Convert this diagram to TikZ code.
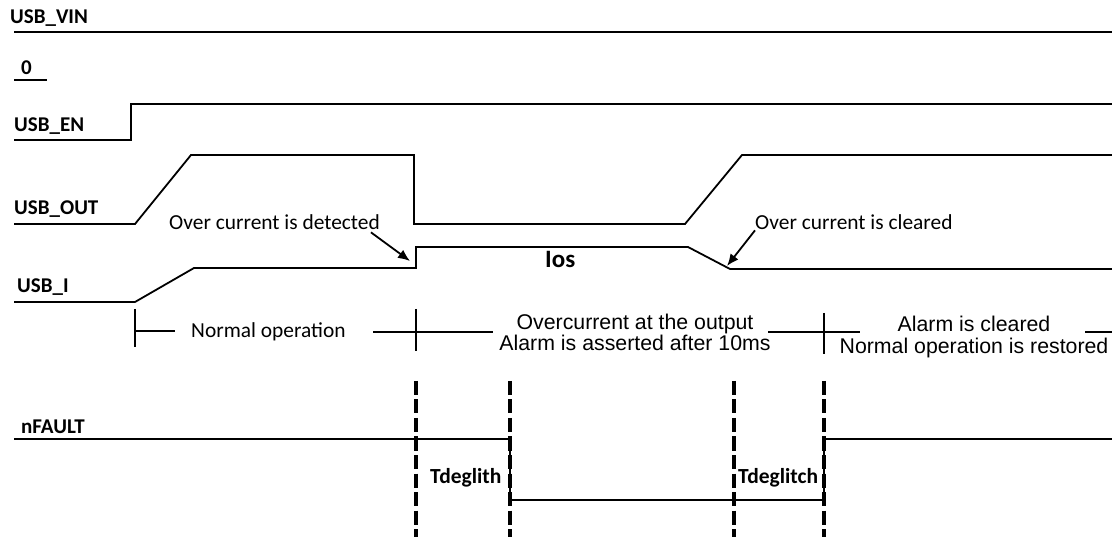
\documentclass[tikz,border=0pt]{standalone}
\usepackage{fontspec}
\setmainfont{Carlito}
\newfontfamily\arialfont{Liberation Sans}
\usetikzlibrary{arrows.meta}

\tikzstyle{wave} = [line width = 1.8pt]
\tikzstyle{signame} = [anchor = base west, inner sep = 0pt, font = \fontsize{21}{24}\selectfont\bfseries]
\tikzstyle{note} = [anchor = base west, inner sep = 0pt, font = \fontsize{21.4}{24}\selectfont]
\tikzstyle{phase} = [align = center, inner sep = 0pt]
\tikzstyle{marker} = [line width = 3.6pt, dash pattern = on 14pt off 4.5pt]
\tikzstyle{pointer} = [line width = 1.8pt, -{Latex[length = 12pt, width = 10pt]}]

\begin{document}
\begin{tikzpicture}[x = 1pt, y = -1pt]
      \useasboundingbox (0, 0) rectangle (1112, 537);

      % Signal names
      \node[signame] (vin)   at (10,  24) {USB\_VIN};
      \node[signame] (zero)  at (21,  75) {0};
      \node[signame] (en)    at (14, 132) {USB\_EN};
      \node[signame] (out)   at (14, 215) {USB\_OUT};
      \node[signame] (cur)   at (17, 293) {USB\_I};
      \node[signame] (fault) at (21, 434) {nFAULT};

      % Waveforms
      \draw[wave] (14, 32) -- (1112, 32);
      \draw[wave] (14, 80) -- (47, 80);
      \draw[wave] (14, 140) -- (131, 140) -- (131, 104) -- (1112, 104);
      \draw[wave] (14, 224) -- (135, 224) -- (191, 155) -- (414, 155) -- (414, 224)
                           -- (685, 224) -- (742, 155) -- (1112, 155);
      \draw[wave] (14, 302) -- (135, 302) -- (194, 268) -- (416, 268) -- (416, 247)
                           -- (688, 247) -- (730, 269) -- (1112, 269);
      \draw[wave] (14, 439) -- (510, 439) -- (510, 500) -- (824, 500) -- (824, 439)
                           -- (1112, 439);

      % Over current events
      \node[note] (det) at (169, 230) {Over current is detected};
      \node[note] (clr) at (755, 230) {Over current is cleared};
      \coordinate (detTip) at (410, 261);
      \coordinate (clrTip) at (727, 266);
      \draw[pointer] ([xshift = -9pt, yshift = -2pt]det.south east) -- (detTip);
      \draw[pointer] (clr.south west) -- (clrTip);
      \node[anchor = base west, inner sep = 0pt, font = \fontsize{25}{30}\selectfont\bfseries]
        (ios) at (545, 268) {Ios};

      % Operating phases
      \draw[thin, line width = 1.4pt] (135, 309) -- (135, 347);
      \draw[thin, line width = 1.4pt] (135, 331) -- (175, 331);
      \node[note] (normal) at (191, 338) {Normal operation};
      \draw[thin, line width = 1.4pt] (373, 332) -- (493, 332);
      \draw[thin, line width = 1.4pt] (416, 309) -- (416, 351);
      \node[phase, font = \arialfont\fontsize{21.3}{19}\selectfont]
        (overload) at (635, 332) {Overcurrent at the output\\Alarm is asserted after 10ms};
      \draw[thin, line width = 1.4pt] (768, 332) -- (860, 332);
      \draw[thin, line width = 1.4pt] (824, 313) -- (824, 354);
      \node[phase, font = \arialfont\fontsize{21.3}{22}\selectfont]
        (restored) at (974, 336.5) {Alarm is cleared\\Normal operation is restored};
      \draw[thin, line width = 1.4pt] (1085, 332) -- (1112, 332);

      % Deglitch markers
      \foreach \x in {416, 510, 734, 824}
      {
        \draw[marker] (\x, 381) -- (\x, 537);
      }
      \node[signame, font = \fontsize{21.5}{24}\selectfont\bfseries] (tdA) at (430, 483) {Tdeglith};
      \node[signame, font = \fontsize{21.5}{24}\selectfont\bfseries] (tdB) at (738, 483) {Tdeglitch};
\end{tikzpicture}
\end{document}
